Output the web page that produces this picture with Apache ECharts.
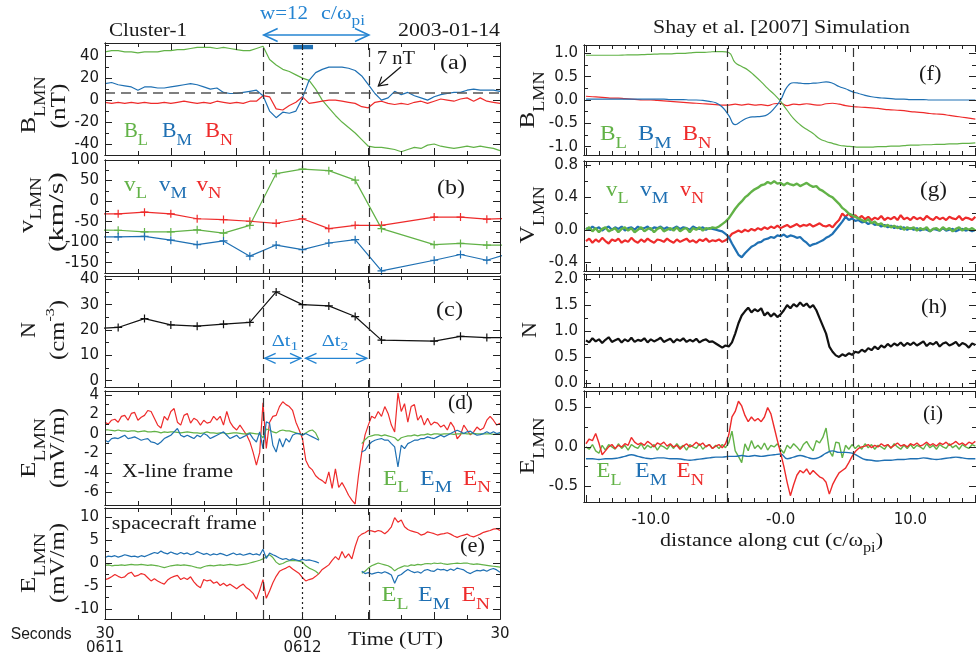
<!DOCTYPE html>
<html><head><meta charset="utf-8">
<script src="https://cdn.jsdelivr.net/npm/echarts@6/dist/echarts.min.js"></script>
<style>html,body{margin:0;padding:0;background:#fff}#c{width:976px;height:660px}</style>
</head><body><div id="c"></div>
<script>
// ================= DATA =================
// Panel (a): B in LMN (nT), 1 s cadence from -30 s (0611:30) to +30 s (0612:30)
const bStart = -30, bStep = 1;
const bL = [44,45,45,44,44,43,44,44,44,45, 45,46,46,47,48,48,48,47,48,47, 46,45,45,47,49,37,32,28,26,23, 20,18,10,0,-7,-14,-20,-25,-30,-36, -42,-43,-43,-44,-45,-47,-45,-43,-44,-41, -40,-42,-43,-44,-43,-42,-43,-42,-43,-44, -46];
const bM = [15,16,14,13,12,9,12,12,11,11, 12,13,14,15,14,12,10,11,7,6, 6,7,8,9,4,-10,-16,-11,-12,-10, 2,18,25,28,30,30,30,29,27,22, 14,6,0,2,8,5,7,4,2,0, 3,5,6,7,7,9,10,9,9,9, 8];
const bN = [-2,-3,-2,-3,-2,-3,-2,-3,-3,-2, -3,-2,-1,-2,-3,-2,-3,-1,-2,-3, -2,-3,-1,-1,4,3,-8,-9,-5,-2, 3,-3,-2,-1,0,0,-1,-2,-3,-6, -7,-2,-1,-3,-4,-3,-4,-2,-1,-3, -1,1,0,-1,1,2,-1,2,-1,-2, -3];
const bRef = 7;               // 7 nT guide line
const bBar = [-1.4, 1.6, 46.3, 50.3];  // small blue bar (t0,t1,y0,y1)

// Panels (b),(c): spin-resolution moments
const vTimes = [-32,-28,-24,-20,-16,-12,-8,-4,0,4,8,12,20,24,28,32];
const vL = [-70,-71,-75,-75,-70,-78,-59,67,78,74,51,-67,-106,-103,-107,-107];
const vM = [-87,-87,-86,-95,-106,-97,-134,-107,-118,-102,-94,-170,-144,-130,-144,-124];
const vN = [-31,-31,-27,-31,-43,-45,-49,-54,-43,-67,-59,-59,-39,-39,-44,-42];
const nDen = [20.5,21,24.5,22,21.5,22.3,23,35,30,29.5,25.3,16,15.6,17.5,17,17];

// Panels (d),(e): E fields, 0.5 s cadence from -30 s
const eStart = -30, eStep = 0.5;
const dEN = [1.2,1.0,1.4,1.5,1.2,1.8,1.9,1.4,2.1,2.2, 1.4,1.7,1.9,2.4,2.3,1.6,0.9,0.6,1.8,1.4,
 2.3,2.6,1.2,0.9,1.9,2.1,1.1,1.6,1.4,0.9, 1.4,1.1,1.2,1.8,1.4,1.8,0.9,2.3,1.2,0.7,
 0.4,0.9,0.4,-0.1,-0.8,-1.9,-3.2,-1.9,3.2,-1.5, 1.2,1.8,1.9,2.8,3.3,3.0,2.8,2.4,1.2,0.4,
 -0.5,-2.7,-3.4,-3.7,-4.3,-4.6,-4.8,-5.1,-3.9,-5.6, -3.6,-5.5,-5.0,-5.6,-6.3,-6.8,-7.2,-4.3,-1.9,-0.1,
 0.9,1.8,1.6,2.3,1.8,2.8,2.1,0.9,0.2,4.2, 2.3,3.1,1.2,2.8,3.0,1.4,1.9,0.9,1.6,0.9,
 1.2,1.1,0.7,0.9,0.4,1.2,0.7,-0.5,-0.1,0.9, 0.4,-0.1,0.2,0.7,0.4,0.6,1.4,1.8,1.4,0.9, 1.1];
const dEL = [0.4,0.4,0.35,0.3,0.4,0.3,0.3,0.25,0.3,0.3, 0.2,0.25,0.3,0.2,0.2,0.25,0.2,0.1,0.2,0.15,
 0.2,0.2,0.15,0.1,0.15,0.2,0.15,0.1,0.1,0.05, 0.1,0.2,0.1,0.1,0.05,0.1,0.1,0.0,0.05,0.1,
 0.1,0.05,0.0,0.0,0.1,0.05,0.0,0.0,-0.4,0.5, 0.4,0.2,0.1,0.3,0.4,0.3,0.3,0.2,0.1,0.0,
 -0.1,0.1,0.3,0.4,0.1,-0.6,null,null,null,null, null,null,null,null,null,null,null,null,-1.0,-0.6,
 -0.3,-0.2,-0.1,-0.1,-0.2,-0.1,-0.2,-0.3,-0.4,-0.7, -0.4,-0.3,-0.2,-0.2,-0.1,-0.2,-0.1,-0.1,0.0,-0.1,
 0.0,0.0,-0.05,0.0,0.0,0.0,-0.05,0.0,0.0,0.05, 0.0,0.0,0.05,0.0,0.0,0.0,0.0,0.0,-0.05,0.0, 0.0];
const dEM = [-0.65,-0.83,-0.48,-0.41,-0.48,-0.31,-0.14,-0.48,-0.41,-0.31, -0.48,-0.65,-0.55,-0.48,-0.83,-0.89,-1.1,-0.83,-0.48,-0.31,
 -0.14,0.21,0.55,-0.14,-0.31,-0.14,-0.31,-0.48,-0.14,-0.31, 0.03,-0.14,-0.48,-0.31,-0.14,0.03,0.21,-0.14,-0.48,-0.31,
 -0.14,-0.48,-0.31,-0.14,0.03,-0.48,-0.83,0.21,-1.51,1.24, 1.07,-1.17,-1.86,-0.48,-1.34,-0.48,-0.83,-0.14,0.03,0.03,
 -0.14,0.03,-0.14,-0.31,-0.48,-0.65,null,null,null,null, null,null,null,null,null,null,null,null,-1.86,-1.69,
 -1.17,-0.83,-0.65,-0.55,-0.48,-0.65,-0.65,-1.0,-1.34,-3.4, -1.17,-1.51,-1.0,-0.83,-0.65,-0.65,-0.48,-0.48,-0.31,-0.41,
 -0.48,-0.31,-0.14,-0.31,-0.14,0.03,0.21,0.38,0.21,0.03, 0.21,0.28,0.03,-0.14,-0.07,0.03,0.21,0.03,0.21,0.03, 0.14];
const eEN = [-3.6,-3.4,-3.0,-2.5,-2.9,-3.2,-3.0,-2.3,-2.0,-2.9, -2.7,-2.3,-2.5,-3.2,-3.9,-3.4,-3.9,-4.3,-4.6,-3.7,
 -3.2,-2.9,-2.7,-3.6,-3.2,-3.6,-3.0,-4.1,-4.9,-5.4, -3.6,-3.9,-3.7,-4.4,-4.1,-4.9,-4.4,-5.0,-4.6,-5.1,
 -5.6,-5.0,-4.6,-5.4,-5.9,-6.6,-7.9,-5.9,-3.6,-7.7, -6.1,-4.3,-2.9,-1.8,-1.4,-1.1,-0.7,-1.3,-1.8,-2.3,
 -3.2,-3.9,-3.6,-3.4,-2.9,-2.3,-1.4,-0.9,-0.4,0.6, 1.4,0.7,2.5,1.1,2.0,0.9,3.6,5.7,6.3,6.6,
 7.1,7.0,6.8,7.1,6.9,6.4,7.0,7.9,9.9,8.9, 9.4,7.9,7.3,7.0,6.8,6.6,6.1,6.3,6.8,6.6,
 6.4,6.1,6.3,6.4,6.6,6.3,5.9,5.6,5.9,6.1, 6.3,5.9,5.7,6.0,6.3,6.7,6.9,7.1,7.4,7.5, 7.1];
const eEM = [1.2,1.5,1.4,1.6,1.3,1.5,1.8,1.6,1.4,1.5, 1.3,1.6,1.4,1.7,2.0,2.3,2.1,2.6,2.2,2.0,
 2.4,2.1,1.9,2.3,2.0,2.2,1.8,2.0,2.5,2.2, 1.9,2.1,1.7,2.0,1.8,2.1,1.9,1.6,1.9,2.2,
 1.8,2.0,1.7,1.9,2.1,1.8,2.0,1.7,3.0,1.0, 2.2,1.8,1.5,1.1,0.8,1.0,0.6,0.9,0.7,0.5,
 0.8,0.6,0.7,0.5,0.3,0.0,null,null,null,null, null,null,null,null,null,null,null,null,-1.8,-2.3,
 -2.1,-2.4,-2.2,-2.0,-2.2,-1.9,-2.2,-2.6,-4.4,-2.8, -2.5,-1.9,-1.4,-1.8,-2.1,-1.9,-2.2,-1.6,-1.4,-1.7,
 -1.8,-1.3,-1.5,-1.4,-1.7,-1.3,-1.6,-1.1,-1.3,-1.5, -2.0,-2.3,-1.9,-1.6,-1.7,-1.5,-1.8,-1.4,-1.2,-1.5, -2.0];
const eEL = [-0.5,-0.4,-0.6,-0.5,-0.5,-0.4,-0.5,-0.4,-0.3,-0.4, -0.4,-0.3,-0.4,-0.5,-0.4,-0.5,-0.6,-0.8,-1.0,-0.8,
 -0.6,-0.5,-0.4,-0.5,-0.4,-0.5,-0.6,-0.8,-1.0,-1.1, -0.8,-0.6,-0.5,-0.6,-0.5,-0.4,-0.5,-0.4,-0.3,-0.4,
 -0.5,-0.4,-0.3,-0.2,0.0,0.2,0.4,0.6,0.9,1.4, 1.8,1.2,0.2,-0.3,-0.1,0.3,0.5,0.6,0.5,0.4,
 0.2,-0.6,-1.1,-1.4,-1.8,-2.4,null,null,null,null, null,null,null,null,null,null,null,null,-2.2,-1.8,
 -1.1,-0.6,-0.3,0.0,-0.2,-0.4,-0.6,-1.0,-1.7,-1.2, -0.9,-0.6,-0.7,-0.4,-0.5,-0.3,-0.4,-0.2,-0.1,-0.2,
 0.0,-0.1,0.0,-0.2,-0.3,-0.2,-0.1,0.0,-0.1,0.0, 0.0,-0.2,-0.3,-0.2,-0.3,-0.4,-0.5,-0.6,-0.7,-0.8, -0.9];
const leftDash = [-5.9, 10.1];

// Simulation panels (f)-(i): distance along cut, -15..15 c/wpi
const sStartA = -15, sStepA = 0.5;
const fBL = [0.96,0.96,0.96,0.96,0.96,0.96,0.965,0.97,0.97,0.975, 0.98,0.985,0.99,0.99,1.0,1.0,1.01,1.02,1.02,1.03,
 1.04,1.04,1.02,0.8,0.72,0.64,0.52,0.39,0.25,0.12, -0.03,-0.22,-0.40,-0.53,-0.63,-0.72,-0.83,-0.89,-0.93,-0.97,
 -0.99,-1.0,-1.01,-1.01,-1.01,-1.0,-1.0,-0.99,-0.99,-0.98, -0.97,-0.97,-0.96,-0.96,-0.95,-0.95,-0.94,-0.94,-0.93,-0.93, -0.92];
const fBM = [0.02,0.02,0.02,0.02,0.02,0.02,0.02,0.02,0.02,0.02, 0.02,0.02,0.02,0.01,0.01,0.01,0.0,0.0,-0.01,-0.03,
 -0.06,-0.15,-0.33,-0.53,-0.45,-0.38,-0.36,-0.35,-0.31,-0.18, 0.0,0.28,0.37,0.36,0.35,0.36,0.37,0.39,0.36,0.29,
 0.24,0.18,0.14,0.1,0.07,0.05,0.04,0.03,0.02,0.02, 0.01,0.01,0.01,0.0,0.0,0.0,0.0,0.0,0.0,0.0, 0.0];
const fBN = [0.08,0.07,0.06,0.05,0.04,0.04,0.03,0.02,0.01,0.0, 0.0,-0.01,-0.02,-0.03,-0.04,-0.05,-0.06,-0.07,-0.08,-0.09,
 -0.1,-0.11,-0.11,-0.09,-0.11,-0.09,-0.11,-0.1,-0.12,-0.08, -0.07,-0.12,-0.09,-0.1,-0.08,-0.1,-0.11,-0.08,-0.07,-0.09,
 -0.12,-0.14,-0.15,-0.16,-0.17,-0.18,-0.2,-0.21,-0.22,-0.23, -0.25,-0.26,-0.27,-0.29,-0.3,-0.31,-0.33,-0.35,-0.37,-0.39, -0.41];
const iEM = [-0.15,-0.15,-0.16,-0.15,-0.15,-0.14,-0.12,-0.1,-0.12,-0.14, -0.15,-0.14,-0.14,-0.15,-0.15,-0.16,-0.17,-0.16,-0.15,-0.14,
 -0.13,-0.13,-0.12,-0.12,-0.11,-0.12,-0.11,-0.12,-0.11,-0.1, -0.09,-0.15,-0.13,-0.11,-0.13,-0.15,-0.13,-0.08,-0.05,-0.07,
 -0.07,-0.08,-0.12,-0.16,-0.17,-0.18,-0.17,-0.17,-0.16,-0.16, -0.15,-0.15,-0.14,-0.15,-0.16,-0.15,-0.14,-0.13,-0.14,-0.15, -0.15];
const sStartB = -15, sStepB = 0.25;
const gVL = [0.00,0.03,-0.02,0.02,-0.03,0.01,0.03,-0.02,0.00,0.02, -0.03,0.01,0.03,-0.01,0.02,-0.03,0.00,0.03,-0.02,0.01,
 0.02,-0.03,0.01,0.03,-0.02,0.00,0.02,-0.01,0.03,-0.02, 0.01,0.02,-0.03,0.02,0.00,0.03,-0.01,0.02,0.01,0.03,
 0.02,0.04,0.07,0.10,0.14,0.20,0.26,0.31,0.35,0.40, 0.43,0.47,0.50,0.52,0.55,0.56,0.59,0.57,0.60,0.57,
 0.58,0.55,0.58,0.56,0.55,0.57,0.54,0.56,0.58,0.55, 0.53,0.54,0.50,0.48,0.45,0.42,0.40,0.36,0.32,0.27,
 0.24,0.20,0.18,0.16,0.14,0.12,0.10,0.13,0.08,0.10, 0.06,0.08,0.04,0.06,0.03,0.05,0.02,0.04,0.00,0.03,
 0.01,0.03,-0.01,0.02,0.00,0.03,-0.02,0.01,0.02,-0.01, 0.03,0.00,0.02,-0.02,0.01,0.03,-0.01,0.02,0.00,0.02, -0.01];
const gVM = [0.02,0.00,0.04,0.01,0.03,-0.01,0.02,0.04,0.00,0.03, 0.01,0.04,-0.01,0.02,0.03,0.00,0.04,0.01,0.02,0.04,
 0.00,0.03,0.02,0.04,0.01,0.03,0.00,0.02,0.04,0.01, 0.03,0.02,0.00,0.04,0.02,0.01,0.03,0.00,0.02,0.01,
 0.00,-0.01,-0.02,-0.05,-0.09,-0.17,-0.24,-0.31,-0.34,-0.29, -0.25,-0.21,-0.19,-0.16,-0.15,-0.12,-0.11,-0.09,-0.10,-0.07,
 -0.08,-0.06,-0.09,-0.07,-0.08,-0.10,-0.09,-0.13,-0.16,-0.20, -0.18,-0.17,-0.15,-0.13,-0.10,-0.08,-0.05,0.00,0.05,0.10,
 0.16,0.12,0.14,0.11,0.12,0.09,0.10,0.07,0.09,0.06, 0.07,0.04,0.06,0.03,0.05,0.02,0.04,0.01,0.03,0.00,
 0.02,0.00,0.02,-0.01,0.01,0.00,-0.02,0.01,0.00,-0.01, 0.02,-0.01,0.00,0.01,-0.02,0.00,0.01,-0.01,0.00,-0.02, 0.00];
const gVN = [-0.14,-0.11,-0.16,-0.12,-0.15,-0.10,-0.14,-0.17,-0.12,-0.14, -0.11,-0.16,-0.13,-0.15,-0.10,-0.14,-0.16,-0.12,-0.15,-0.11,
 -0.14,-0.16,-0.12,-0.13,-0.15,-0.11,-0.14,-0.16,-0.12,-0.15, -0.13,-0.11,-0.15,-0.13,-0.16,-0.12,-0.14,-0.11,-0.15,-0.13,
 -0.14,-0.12,-0.15,-0.13,-0.10,-0.05,-0.03,-0.01,-0.03,0.00, -0.02,0.01,-0.01,0.02,0.00,0.03,0.01,0.04,0.02,0.05,
 0.02,0.04,0.06,0.03,0.05,0.07,0.04,0.06,0.05,0.07, 0.04,0.06,0.08,0.05,0.04,0.06,0.03,0.08,0.12,0.20,
 0.16,0.20,0.15,0.18,0.14,0.17,0.13,0.16,0.12,0.15, 0.13,0.17,0.12,0.15,0.13,0.16,0.12,0.18,0.13,0.15,
 0.12,0.16,0.13,0.15,0.12,0.17,0.14,0.12,0.16,0.13, 0.15,0.12,0.16,0.14,0.13,0.17,0.12,0.15,0.14,0.12, 0.16];
const hN = [0.82,0.78,0.86,0.80,0.84,0.77,0.83,0.88,0.79,0.82, 0.85,0.78,0.84,0.80,0.87,0.79,0.83,0.81,0.86,0.78,
 0.84,0.80,0.83,0.87,0.79,0.82,0.85,0.78,0.84,0.81, 0.86,0.79,0.83,0.80,0.85,0.78,0.82,0.84,0.79,0.80,
 0.76,0.72,0.68,0.72,0.70,0.78,0.95,1.15,1.30,1.38, 1.45,1.36,1.42,1.38,1.44,1.30,1.36,1.28,1.34,1.27,
 1.32,1.40,1.50,1.44,1.52,1.47,1.55,1.48,1.53,1.45, 1.50,1.40,1.25,1.10,0.95,0.70,0.60,0.53,0.50,0.55,
 0.52,0.57,0.54,0.60,0.58,0.64,0.60,0.67,0.63,0.70, 0.65,0.72,0.68,0.75,0.70,0.76,0.72,0.78,0.71,0.77,
 0.73,0.78,0.72,0.76,0.80,0.71,0.77,0.74,0.79,0.70, 0.76,0.78,0.72,0.75,0.79,0.71,0.77,0.74,0.68,0.76, 0.73];
const iEN = [0.04,0.10,0.08,0.17,0.05,-0.10,-0.05,0.00,0.03,-0.02, 0.02,0.00,0.04,0.02,0.12,0.06,0.03,0.05,0.02,0.07,
 0.04,0.00,0.05,0.03,0.06,0.01,0.04,0.00,0.02,-0.03, 0.01,0.04,0.00,0.02,0.06,0.02,0.05,0.00,0.03,-0.02,
 0.01,0.03,-0.01,0.04,0.15,0.38,0.45,0.58,0.52,0.40, 0.32,0.38,0.33,0.36,0.32,0.38,0.50,0.42,0.25,0.08,
 -0.08,-0.25,-0.45,-0.62,-0.48,-0.36,-0.30,-0.33,-0.28,-0.35, -0.30,-0.34,-0.38,-0.40,-0.45,-0.60,-0.48,-0.40,-0.33,-0.30,
 -0.27,-0.20,-0.12,-0.06,-0.02,0.00,0.01,0.03,-0.01,0.02, 0.00,0.04,0.01,0.03,-0.01,0.02,0.05,0.01,0.03,0.00,
 0.04,0.02,0.05,0.01,0.03,0.06,0.02,0.04,0.01,0.05, 0.03,0.06,0.02,0.04,0.07,0.03,0.05,0.02,0.06,0.04, 0.07];
const iEL = [0.00,-0.03,0.03,-0.05,-0.08,0.02,-0.04,0.03,0.00,-0.03, 0.04,-0.02,0.02,-0.04,0.03,0.00,-0.02,0.04,-0.03,0.02,
 -0.01,0.03,-0.04,0.02,0.00,-0.03,0.03,-0.02,0.04,-0.01, 0.02,-0.04,0.03,0.00,-0.02,0.04,-0.03,0.01,0.03,-0.02,
 0.02,-0.02,0.03,-0.01,0.05,0.20,-0.05,-0.12,-0.20,0.04, -0.05,0.08,-0.02,0.02,-0.03,0.05,-0.04,0.02,0.00,0.04,
 -0.03,-0.08,0.02,-0.02,0.04,0.00,-0.05,0.03,0.07,0.00, -0.05,0.08,0.05,0.12,0.24,-0.05,-0.12,0.06,0.05,-0.14,
 0.02,-0.03,0.03,-0.02,0.02,-0.03,0.04,-0.01,0.03,-0.03, 0.02,0.00,-0.03,0.03,-0.02,0.04,0.00,-0.03,0.02,-0.02,
 0.03,-0.02,0.02,0.00,-0.03,0.04,-0.01,0.02,-0.03,0.03, 0.00,-0.02,0.04,-0.01,0.02,-0.03,0.03,0.00,-0.02,0.03, 0.01];
const rightDash = [-4.1, 5.6];

// tick positions / labels
const leftXMaj = [-30,-20,-10,0,10,20,30], leftXMin = [-25,-15,-5,5,15,25], leftXLab = [-30,0,30];
const rightXMaj = [-15,-10,-5,0,5,10,15], rightXLab = [-10,0,10];
const rightXMin = [-14,-13,-12,-11,-9,-8,-7,-6,-4,-3,-2,-1,1,2,3,4,6,7,8,9,11,12,13,14];

// ================= STYLE =================
const GREEN='#62b247', BLUE='#1f70b3', RED='#ee2b2b', BLACK='#111', TXT='#1a1a1a', ABLUE='#2484d2';
const SERIF="'Liberation Serif','Times New Roman',serif";
const SANS="'Liberation Sans',Arial,sans-serif";
const TICK="'DejaVu Sans',sans-serif";

const chart = echarts.init(document.getElementById('c'), null, {renderer:'canvas'});
const option = {animation:false, backgroundColor:'#fff', grid:[], xAxis:[], yAxis:[], series:[]};

function axis(dim, gi, min, max, pos, ticks, len, labels, fmt, lab){
  const a = {type:'value', gridIndex:gi, min:min, max:max, position:pos, silent:true, z:5,
    axisLine:{show:true, onZero:false, lineStyle:{color:'#222', width:1}},
    axisTick:{show:true, inside:true, length:len, customValues:ticks, lineStyle:{color:'#222', width:1}},
    axisLabel: labels ? Object.assign({show:true, customValues:labels, formatter:fmt, color:TXT, fontFamily:TICK, fontSize:15}, lab||{}) : {show:false},
    splitLine:{show:false}, splitArea:{show:false}, axisPointer:{show:false}};
  const arr = dim==='x' ? option.xAxis : option.yAxis;
  arr.push(a); return arr.length-1;
}
function halfTicks(maj){ const r=[]; for(let i=0;i<maj.length-1;i++) r.push((maj[i]+maj[i+1])/2); return r; }
function panel(p){
  const gi = option.grid.length;
  option.grid.push({left:p.left, top:p.top, width:p.width, height:p.height, containLabel:false});
  const xb = axis('x',gi,p.x[0],p.x[1],'bottom',p.xMaj,7,p.xLab||null,p.xFmt,p.xLabOpt);
  axis('x',gi,p.x[0],p.x[1],'bottom',p.xMin,4,null);
  axis('x',gi,p.x[0],p.x[1],'top',p.xMaj,7,null);
  axis('x',gi,p.x[0],p.x[1],'top',p.xMin,4,null);
  const yMin = p.yMin || halfTicks(p.yMaj);
  const yl = axis('y',gi,p.y[0],p.y[1],'left',p.yMaj,7,p.yMaj,p.yFmt,{margin:6});
  axis('y',gi,p.y[0],p.y[1],'left',yMin,4,null);
  axis('y',gi,p.y[0],p.y[1],'right',p.yMaj,7,null);
  axis('y',gi,p.y[0],p.y[1],'right',yMin,4,null);
  return {gi:gi, xb:xb, yl:yl};
}
const intFmt = v => String(Math.round(v));
const decFmt = v => v.toFixed(1);
const L0 = {left:105, width:395, x:[-30,30], xMaj:leftXMaj, xMin:leftXMin, yFmt:intFmt};
const R0 = {left:584, width:395, x:[-15.15,15.05], xMaj:rightXMaj, xMin:rightXMin, yFmt:decFmt};
const leftLab = {xLab:leftXLab, xFmt:v => v===-30?'30\n0611':(v===0?'00\n0612':'30'), xLabOpt:{margin:8, lineHeight:14, fontSize:15}};
const rightLab = {xLab:rightXLab, xFmt:v => v===0?'-0.0':v.toFixed(1), xLabOpt:{margin:11, fontSize:15}};

const PA = panel(Object.assign({}, L0, {top:43, height:112, y:[-50,52], yMaj:[-40,-20,0,20,40], yMin:[-50,-30,-10,10,30,50]}));
const PB = panel(Object.assign({}, L0, {top:160, height:113, y:[-175,100], yMaj:[-150,-100,-50,0,50,100]}));
const PC = panel(Object.assign({}, L0, {top:276, height:111, y:[-2.5,41.3], yMaj:[0,10,20,30,40]}));
const PD = panel(Object.assign({}, L0, {top:391, height:114, y:[-7.3,4.4], yMaj:[-6,-4,-2,0,2,4]}));
const PE = panel(Object.assign({}, L0, leftLab, {top:508, height:111, y:[-12.2,12], yMaj:[-10,-5,0,5,10]}));
const PF = panel(Object.assign({}, R0, {top:45, height:110, y:[-1.18,1.18], yMaj:[-1,-0.5,0,0.5,1]}));
const PG = panel(Object.assign({}, R0, {top:161, height:110, y:[-0.51,0.85], yMaj:[-0.4,0,0.4,0.8]}));
const PH = panel(Object.assign({}, R0, {top:274, height:113, y:[-0.08,2.1], yMaj:[0,0.5,1,1.5,2]}));
const PI = panel(Object.assign({}, R0, rightLab, {top:391, height:111, y:[-0.7,0.71], yMaj:[-0.5,0,0.5]}));

function uni(arr, start, step){ return arr.map((v,i)=>[+(start+i*step).toFixed(3), v==null?'-':v]); }
function pairs(xs, ys){ return xs.map((x,i)=>[x, ys[i]]); }
function line(P, data, color, extra){
  return Object.assign({type:'line', xAxisIndex:P.xb, yAxisIndex:P.yl, data:data, symbol:'none', showSymbol:false,
    silent:true, animation:false, clip:true, connectNulls:false, lineStyle:{color:color, width:1.2}, itemStyle:{color:color}, z:3}, extra||{});
}
const DASH = {type:[9,5], color:'#333', width:1.2};
const DOT = {type:[2,3], color:'#222', width:1.2};
function vmarks(dash, extra){
  const d = dash.map(x=>({xAxis:x, lineStyle:DASH}));
  d.push({xAxis:0, lineStyle:DOT});
  return {silent:true, symbol:'none', animation:false, label:{show:false}, data:d.concat(extra||[])};
}
const PLUS = 'path://M5,0 L5,10 M0,5 L10,5';
const plusOpt = c => ({symbol:PLUS, symbolSize:8, showSymbol:true, itemStyle:{color:c, borderColor:c, borderWidth:1.2}});

// (a)
option.series.push(line(PA, uni(bL,bStart,bStep), GREEN, {markLine:vmarks(leftDash,[{yAxis:bRef, lineStyle:{type:[10,6], color:'#555', width:1.5}}]),
  markArea:{silent:true, itemStyle:{color:BLUE}, data:[[{xAxis:bBar[0], yAxis:bBar[2]},{xAxis:bBar[1], yAxis:bBar[3]}]]}}));
option.series.push(line(PA, uni(bN,bStart,bStep), RED));
option.series.push(line(PA, uni(bM,bStart,bStep), BLUE));
// (b)
option.series.push(line(PB, pairs(vTimes,vN), RED, Object.assign(plusOpt(RED), {markLine:vmarks(leftDash)})));
option.series.push(line(PB, pairs(vTimes,vL), GREEN, plusOpt(GREEN)));
option.series.push(line(PB, pairs(vTimes,vM), BLUE, plusOpt(BLUE)));
// (c)
option.series.push(line(PC, pairs(vTimes,nDen), BLACK, Object.assign(plusOpt(BLACK), {markLine:vmarks(leftDash)})));
// (d)
option.series.push(line(PD, uni(dEN,eStart,eStep), RED, {markLine:vmarks(leftDash)}));
option.series.push(line(PD, uni(dEL,eStart,eStep), GREEN));
option.series.push(line(PD, uni(dEM,eStart,eStep), BLUE));
// (e)
option.series.push(line(PE, uni(eEN,eStart,eStep), RED, {markLine:vmarks(leftDash)}));
option.series.push(line(PE, uni(eEL,eStart,eStep), GREEN));
option.series.push(line(PE, uni(eEM,eStart,eStep), BLUE));
// (f)
option.series.push(line(PF, uni(fBN,sStartA,sStepA), RED, {smooth:true, markLine:vmarks(rightDash)}));
option.series.push(line(PF, uni(fBL,sStartA,sStepA), GREEN, {smooth:true}));
option.series.push(line(PF, uni(fBM,sStartA,sStepA), BLUE, {smooth:true}));
// (g)
option.series.push(line(PG, uni(gVN,sStartB,sStepB), RED, {markLine:vmarks(rightDash), lineStyle:{color:RED,width:2.2}}));
option.series.push(line(PG, uni(gVM,sStartB,sStepB), BLUE, {lineStyle:{color:BLUE,width:2.2}}));
option.series.push(line(PG, uni(gVL,sStartB,sStepB), GREEN, {lineStyle:{color:GREEN,width:2.4}}));
// (h)
option.series.push(line(PH, uni(hN,sStartB,sStepB), BLACK, {markLine:vmarks(rightDash), lineStyle:{color:BLACK,width:2.2}}));
// (i)
option.series.push(line(PI, uni(iEL,sStartB,sStepB), GREEN, {markLine:vmarks(rightDash), lineStyle:{color:GREEN,width:1.4}}));
option.series.push(line(PI, uni(iEM,sStartA,sStepA), BLUE, {smooth:true, lineStyle:{color:BLUE,width:1.4}}));
option.series.push(line(PI, uni(iEN,sStartB,sStepB), RED, {lineStyle:{color:RED,width:1.4}}));

chart.setOption(option);

// ================= TEXT / ANNOTATIONS =================
const cv = document.createElement('canvas').getContext('2d');
function mw(t,size,fam){ cv.font = size+'px '+fam; return cv.measureText(t).width; }
function T(x, y, parts, o){
  o = o||{}; const fam = o.fam||SERIF; const col = o.color||TXT;
  const widths = parts.map(p=>mw(p[0],p[1],fam));
  const tot = widths.reduce((a,b)=>a+b,0);
  const s = o.w ? o.w/tot : (o.sx||1);
  let cur = o.anchor==='center' ? -tot*s/2 : (o.anchor==='right' ? -tot*s : 0);
  const children = [];
  parts.forEach((p,i)=>{
    children.push({type:'text', x:cur, y:p[2]||0, scaleX:s, silent:true,
      style:{text:p[0], fontSize:p[1], fontFamily:fam, fill:p[3]||col, align:'left', verticalAlign:'middle'}});
    cur += widths[i]*s;
  });
  return {type:'group', x:x, y:y, rotation:o.rot||0, silent:true, children:children};
}
const R90 = Math.PI/2;
const G = [];
// header
G.push(T(109,31,[['Cluster-1',18]],{w:78}));
G.push(T(500,31,[['2003-01-14',18]],{w:102, anchor:'right'}));
G.push(T(260,14,[['w=12',18]],{w:48, color:ABLUE}));
G.push(T(321,14,[['c/\u03c9',18],['pi',14,7.5]],{w:44, color:ABLUE}));
G.push(T(653,28,[['Shay et al. [2007] Simulation',18]],{w:257}));
G.push(T(377,59,[['7 nT',18]],{w:38}));
// legends
const leg = (x,y,a,b,w,c,big,small,dy)=>T(x,y,[[a,big],[b,small,dy]],{w:w,color:c});
G.push(leg(124,131.5,'B','L',24,GREEN,20,16,9.5), leg(162,131.5,'B','M',30,BLUE,20,16,9.5), leg(205,131.5,'B','N',28,RED,20,16,9.5));
G.push(leg(124,185.3,'v','L',23,GREEN,20,16,8), leg(159,185.3,'v','M',28,BLUE,20,16,8), leg(196.5,185.3,'v','N',25,RED,20,16,8));
G.push(leg(383,479,'E','L',26,GREEN,21,17,9), leg(420,479,'E','M',32,BLUE,21,17,9), leg(463,479,'E','N',28,RED,21,17,9));
G.push(leg(381.5,595.5,'E','L',27,GREEN,21,17,9), leg(418,595.5,'E','M',32,BLUE,21,17,9), leg(461.5,595.5,'E','N',28.5,RED,21,17,9));
G.push(leg(600,135,'B','L',27,GREEN,20,16,8.5), leg(638,135,'B','M',33.5,BLUE,20,16,8.5), leg(682.5,135,'B','N',29,RED,20,16,8.5));
G.push(leg(606,190.3,'v','L',22.5,GREEN,20,16,8), leg(640,190.3,'v','M',28.5,BLUE,20,16,8), leg(680,190.3,'v','N',24,RED,20,16,8));
G.push(leg(596.5,471.7,'E','L',25,GREEN,20,16,9.5), leg(635,471.7,'E','M',31.7,BLUE,20,16,9.5), leg(676.5,471.7,'E','N',27.5,RED,20,16,9.5));
// panel tags
[['(a)',440,64,27],['(b)',437,189,28],['(c)',436,311,27],['(d)',448,404,25],['(e)',460,547,25],
 ['(f)',919,75,22.5],['(g)',920,191,27],['(h)',921,308,26],['(i)',923,415,20]].forEach(t=>G.push(T(t[1],t[2],[[t[0],20]],{w:t[3]})));
// frame labels
G.push(T(122,472,[['X-line frame',18]],{w:111}));
G.push(T(111.7,524.7,[['spacecraft frame',18]],{w:145}));
// bottom labels
G.push(T(10.7,634.5,[['Seconds',16]],{w:61, fam:SANS}));
G.push(T(348,640.5,[['Time (UT)',19]],{w:95}));
G.push(T(660,541,[['distance along cut (c/\u03c9',19],['pi',14,7],[')',19]],{w:223}));
// y titles (rotated)
const yt = (x,y,parts,w)=>T(x,y,parts,{w:w, anchor:'center', rot:R90});
G.push(yt(29,105,[['B',22],['LMN',16,12]],57), yt(60,106,[['(nT)',20]],45));
G.push(yt(27,205,[['v',22],['LMN',16,10]],56), yt(58,212,[['(km/s)',20]],80));
G.push(yt(29,330,[['N',22]],16), yt(59,330,[['(cm',20],['-3',13,-8],[')',20]],60));
G.push(yt(29,448,[['E',22],['LMN',16,12]],60), yt(59,448,[['(mV/m)',20]],80));
G.push(yt(29,563,[['E',22],['LMN',16,12]],60), yt(59,563,[['(mV/m)',20]],80));
G.push(yt(528,100,[['B',22],['LMN',16,12]],57));
G.push(yt(528,215,[['V',22],['LMN',16,12]],57));
G.push(yt(530,330,[['N',22]],16));
G.push(yt(528,446,[['E',22],['LMN',16,12]],57));
// arrows (anchored to the time axis)
const pxL = t => chart.convertToPixel({gridIndex:PA.gi},[t,0])[0];
function dblArrow(x1,x2,y,dx,dy,col,w){
  return [{type:'line', silent:true, shape:{x1:x1,y1:y,x2:x2,y2:y}, style:{stroke:col, lineWidth:w}},
    {type:'polyline', silent:true, shape:{points:[[x1+dx,y-dy],[x1,y],[x1+dx,y+dy]]}, style:{stroke:col, lineWidth:w, fill:null}},
    {type:'polyline', silent:true, shape:{points:[[x2-dx,y-dy],[x2,y],[x2-dx,y+dy]]}, style:{stroke:col, lineWidth:w, fill:null}}];
}
const xa = pxL(leftDash[0]), xz = pxL(0), xb2 = pxL(leftDash[1]);
G.push(...dblArrow(xa, xb2, 35, 14, 6.5, ABLUE, 1.5));
G.push(...dblArrow(xa+1, xz-1.5, 358.3, 11, 5, ABLUE, 1.3));
G.push(...dblArrow(xz+3, xb2-2, 358.3, 11, 5, ABLUE, 1.3));
G.push(T(271.7,342,[['\u0394t',17],['1',13,5]],{w:26.6, color:ABLUE}));
G.push(T(321.7,342,[['\u0394t',17],['2',13,5]],{w:26.6, color:ABLUE}));
G.push({type:'line', silent:true, shape:{x1:401,y1:66.7,x2:378.3,y2:86}, style:{stroke:'#111', lineWidth:1.2}});
G.push({type:'polyline', silent:true, shape:{points:[[388.2,84.3],[378.3,86],[381.7,76.6]]}, style:{stroke:'#111', lineWidth:1.2, fill:null}});

chart.setOption({graphic:G});
</script></body></html>
